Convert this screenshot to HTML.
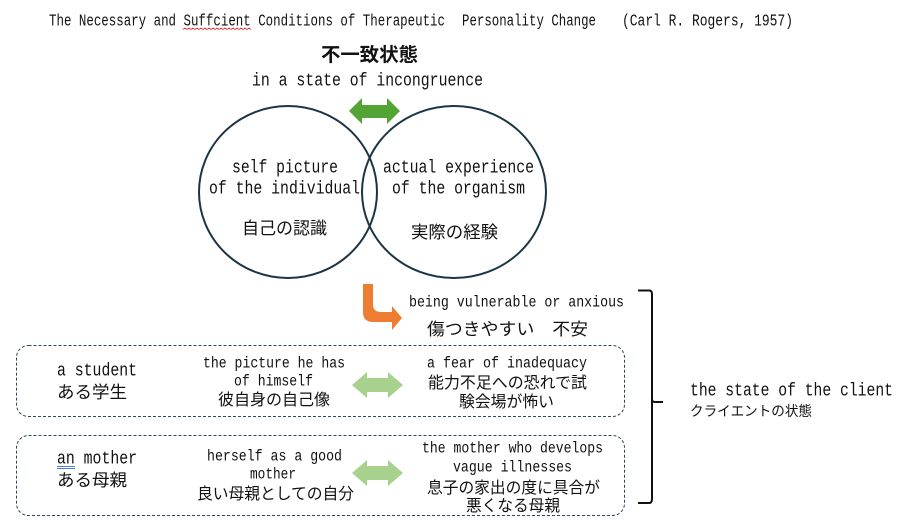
<!DOCTYPE html>
<html>
<head>
<meta charset="utf-8">
<style>
html,body{margin:0;padding:0;background:#fff;}
body{width:900px;height:524px;overflow:hidden;}
svg{display:block;}
.l{font-family:"Liberation Mono","Noto Sans CJK JP",monospace;fill:#111;}
.j{font-family:"Liberation Sans","Noto Sans CJK JP",sans-serif;fill:#111;}
</style>
</head>
<body>
<svg width="900" height="524" viewBox="0 0 900 524" xmlns="http://www.w3.org/2000/svg">
  <!-- Title -->
  <text class="l" x="49" y="25.5" font-size="16.5" textLength="396" lengthAdjust="spacingAndGlyphs">The Necessary and Suffcient Conditions of Therapeutic</text>
  <text class="l" x="462" y="25.5" font-size="16.5" textLength="134" lengthAdjust="spacingAndGlyphs">Personality Change</text>
  <text class="l" x="622" y="25.5" font-size="16.5" textLength="171" lengthAdjust="spacingAndGlyphs">(Carl R. Rogers, 1957)</text>
  <path d="M183 29.5 l2 -1.5 l2 1.5 l2 -1.5 l2 1.5 l2 -1.5 l2 1.5 l2 -1.5 l2 1.5 l2 -1.5 l2 1.5 l2 -1.5 l2 1.5 l2 -1.5 l2 1.5 l2 -1.5 l2 1.5 l2 -1.5 l2 1.5 l2 -1.5 l2 1.5 l2 -1.5 l2 1.5 l2 -1.5 l2 1.5 l2 -1.5 l2 1.5 l2 -1.5 l2 1.5 l2 -1.5 l2 1.5 l2 -1.5 l2 1.5 l2 -1.5 l2 1.5" fill="none" stroke="#e03030" stroke-width="0.8"/>

  <!-- Heading -->
  <text class="j" x="321" y="61" font-size="19" font-weight="bold" textLength="97" lengthAdjust="spacingAndGlyphs">不一致状態</text>
  <text class="l" x="252" y="85.5" font-size="18" textLength="231" lengthAdjust="spacingAndGlyphs">in a state of incongruence</text>

  <!-- Top green double arrow -->
  <polygon points="349,111 362,98 362,105 387,105 387,98 400,111 387,124 387,118 362,118 362,124" fill="#52a534"/>

  <!-- Circles -->
  <ellipse cx="288" cy="192" rx="89" ry="86" fill="none" stroke="#1b3545" stroke-width="2"/>
  <ellipse cx="454" cy="192" rx="92" ry="86" fill="none" stroke="#1b3545" stroke-width="2"/>

  <text class="l" x="232" y="172.5" font-size="18.5" textLength="106" lengthAdjust="spacingAndGlyphs">self picture</text>
  <text class="l" x="209" y="193.5" font-size="18.5" textLength="151" lengthAdjust="spacingAndGlyphs">of the individual</text>
  <text class="j" x="242" y="234" font-size="17" textLength="85" lengthAdjust="spacingAndGlyphs">自己の認識</text>

  <text class="l" x="383" y="172.5" font-size="18.5" textLength="151" lengthAdjust="spacingAndGlyphs">actual experience</text>
  <text class="l" x="392" y="193.5" font-size="18.5" textLength="133" lengthAdjust="spacingAndGlyphs">of the organism</text>
  <text class="j" x="411" y="238" font-size="17" textLength="87" lengthAdjust="spacingAndGlyphs">実際の経験</text>

  <!-- Orange bent arrow -->
  <path d="M363 284 H373 V304 Q373 312 381 312 H392 V306 L402 318 L392 330 V322 H373 Q363 322 363 312 Z" fill="#ed7d31"/>

  <text class="l" x="409" y="306.5" font-size="16" textLength="215" lengthAdjust="spacingAndGlyphs">being vulnerable or anxious</text>
  <text class="j" x="427" y="335" font-size="17" textLength="161" lengthAdjust="spacingAndGlyphs">傷つきやすい　不安</text>

  <!-- Brace -->
  <path d="M638 290.5 H649 Q652 290.5 652 294 V399 Q652 402 655 402 H663 M652 399 V499 Q652 503 649 503 H638" fill="none" stroke="#111" stroke-width="2"/>
  <text class="l" x="690" y="395.5" font-size="18" textLength="203" lengthAdjust="spacingAndGlyphs">the state of the client</text>
  <text class="j" x="690" y="416" font-size="14" textLength="122" lengthAdjust="spacingAndGlyphs">クライエントの状態</text>

  <!-- Box 1 -->
  <rect x="16.5" y="345.5" width="608" height="71" rx="12" ry="12" fill="none" stroke="#2e4759" stroke-width="1" stroke-dasharray="3,2"/>
  <text class="l" x="57" y="375.5" font-size="18" textLength="80" lengthAdjust="spacingAndGlyphs">a student</text>
  <text class="j" x="57" y="398" font-size="17" textLength="70" lengthAdjust="spacingAndGlyphs">ある学生</text>
  <text class="l" x="203" y="367.5" font-size="15.5" textLength="142" lengthAdjust="spacingAndGlyphs">the picture he has</text>
  <text class="l" x="234" y="385.5" font-size="15.5" textLength="79" lengthAdjust="spacingAndGlyphs">of himself</text>
  <text class="j" x="218" y="405" font-size="16" textLength="112" lengthAdjust="spacingAndGlyphs">彼自身の自己像</text>
  <polygon points="352,385 367,372 367,378 388,378 388,372 403,385 388,398 388,392 367,392 367,398" fill="#a9d18e"/>
  <text class="l" x="427" y="367.5" font-size="15.5" textLength="160" lengthAdjust="spacingAndGlyphs">a fear of inadequacy</text>
  <text class="j" x="428" y="388" font-size="16" textLength="159" lengthAdjust="spacingAndGlyphs">能力不足への恐れで試</text>
  <text class="j" x="459" y="407" font-size="16" textLength="95" lengthAdjust="spacingAndGlyphs">験会場が怖い</text>

  <!-- Box 2 -->
  <rect x="16.5" y="435.5" width="608" height="80" rx="12" ry="12" fill="none" stroke="#2e4759" stroke-width="1" stroke-dasharray="3,2"/>
  <text class="l" x="57" y="463.5" font-size="18" textLength="80" lengthAdjust="spacingAndGlyphs">an mother</text>
  <line x1="57" y1="466.5" x2="75" y2="466.5" stroke="#4a7fd0" stroke-width="1"/>
  <line x1="57" y1="468.5" x2="75" y2="468.5" stroke="#4a7fd0" stroke-width="1"/>
  <text class="j" x="57" y="486" font-size="17" textLength="70" lengthAdjust="spacingAndGlyphs">ある母親</text>
  <text class="l" x="207" y="460.5" font-size="15.5" textLength="135" lengthAdjust="spacingAndGlyphs">herself as a good</text>
  <text class="l" x="250" y="478.5" font-size="15.5" textLength="46" lengthAdjust="spacingAndGlyphs">mother</text>
  <text class="j" x="197" y="499" font-size="16" textLength="157" lengthAdjust="spacingAndGlyphs">良い母親としての自分</text>
  <polygon points="352,473 367,460 367,466 388,466 388,460 403,473 388,486 388,480 367,480 367,486" fill="#a9d18e"/>
  <text class="l" x="422" y="452.5" font-size="15.5" textLength="181" lengthAdjust="spacingAndGlyphs">the mother who develops</text>
  <text class="l" x="453" y="471.5" font-size="15.5" textLength="119" lengthAdjust="spacingAndGlyphs">vague illnesses</text>
  <text class="j" x="427" y="493" font-size="16" textLength="173" lengthAdjust="spacingAndGlyphs">息子の家出の度に具合が</text>
  <text class="j" x="466" y="511" font-size="16" textLength="94" lengthAdjust="spacingAndGlyphs">悪くなる母親</text>
</svg>
</body>
</html>
